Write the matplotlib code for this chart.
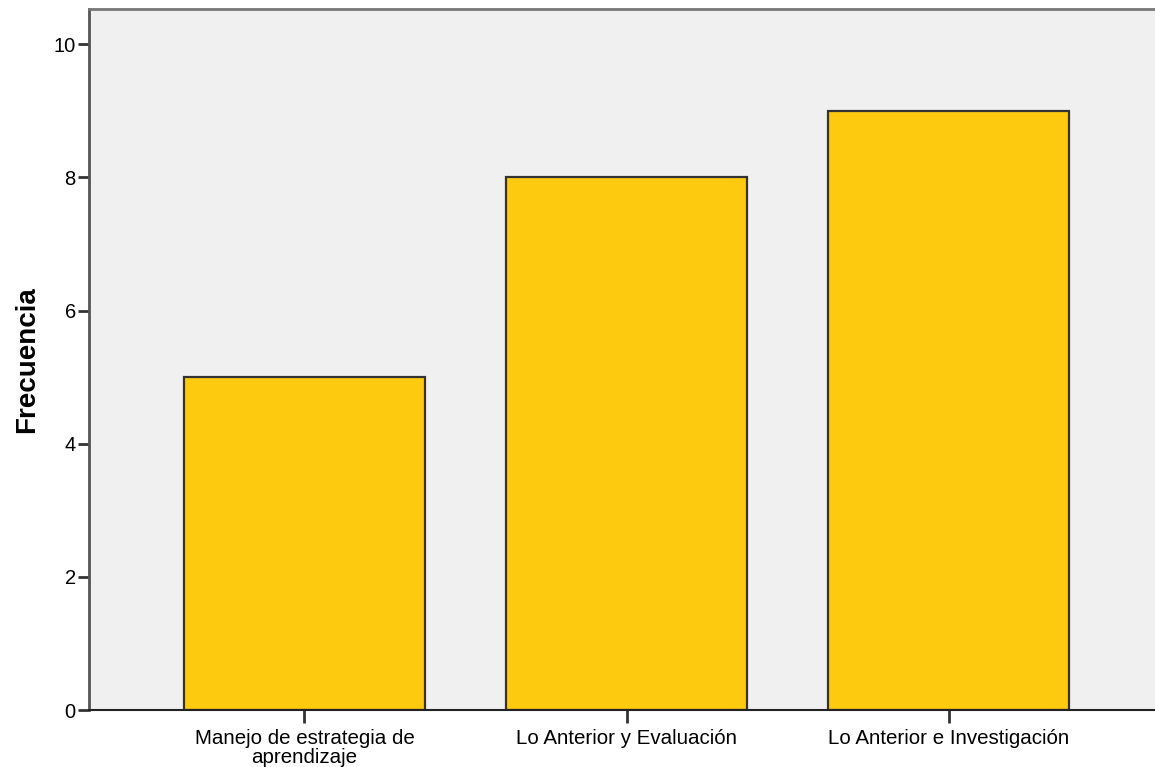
import matplotlib.pyplot as plt

categorias = ['Manejo de estrategia de\naprendizaje', 'Lo Anterior y Evaluación', 'Lo Anterior e Investigación']
frecuencias = [5, 8, 9]
yticks = [0, 2, 4, 6, 8, 10]

plt.rcParams['font.family'] = ['Liberation Sans', 'DejaVu Sans']

fig = plt.figure(figsize=(11.55, 7.67), dpi=100)
ax = fig.add_axes([89 / 1155, 57 / 767, 1075 / 1155, 701 / 767])
ax.set_facecolor('#F0F0F0')

x = range(len(categorias))
ax.bar(x, frecuencias, width=0.75, color='#FECA10', edgecolor='#333333', linewidth=1.6)

ax.set_xlim(-0.669, 2.669)
ax.set_ylim(0, 10.53)
ax.set_xticks(list(x))
ax.set_xticklabels(categorias, fontsize=14.8, linespacing=0.95)
ax.set_yticks(yticks)
ax.set_yticklabels([str(v) for v in yticks], fontsize=14.5)
ax.tick_params(axis='y', length=8, width=2, color='#333333', pad=1.5)
ax.tick_params(axis='x', length=9, width=2, color='#333333', pad=5)
ax.set_ylabel('Frecuencia', fontsize=20, fontweight='bold', labelpad=10)

ax.spines['right'].set_visible(False)
ax.spines['left'].set_color('#555555')
ax.spines['left'].set_linewidth(2)
ax.spines['top'].set_color('#777777')
ax.spines['top'].set_linewidth(2)
ax.spines['bottom'].set_color('#222222')
ax.spines['bottom'].set_linewidth(1.5)

fig.savefig('out.png', dpi=100)
